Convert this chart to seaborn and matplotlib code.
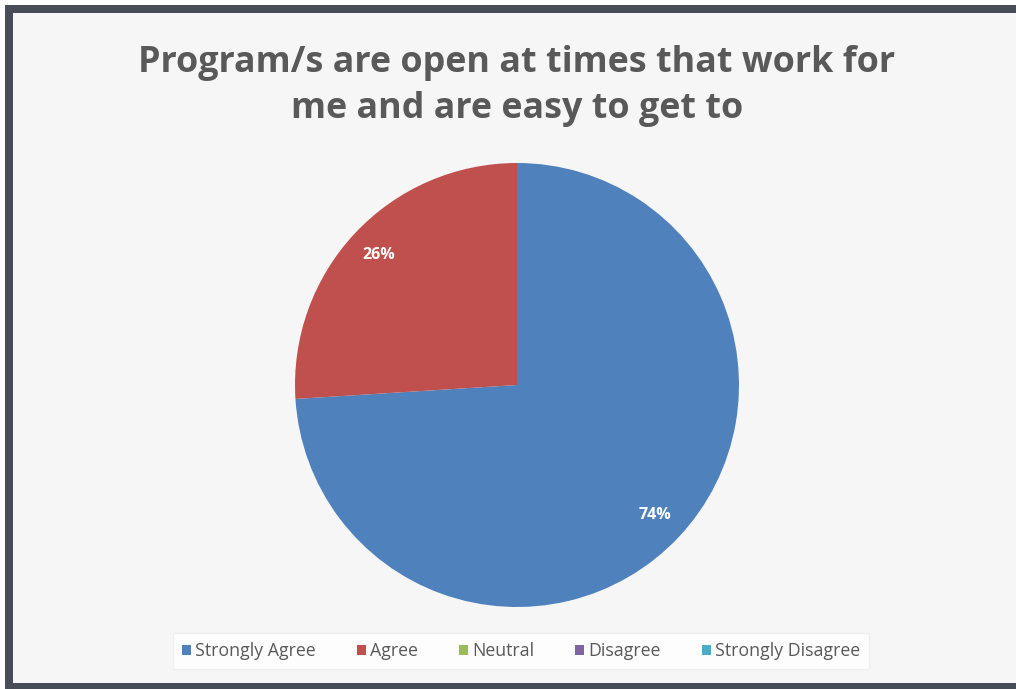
import matplotlib
matplotlib.use("Agg")
import matplotlib.pyplot as plt
from matplotlib.patches import Rectangle, Patch
import seaborn as sns

# Survey responses
categories = ["Strongly Agree", "Agree", "Neutral", "Disagree", "Strongly Disagree"]
shares = [74, 26, 0, 0, 0]
title_text = "Program/s are open at times that work for\nme and are easy to get to"

sns.set_theme(style="white")
plt.rcParams["font.family"] = ["Open Sans", "DejaVu Sans"]

palette = sns.color_palette(["#4F81BD", "#C0504D", "#9BBB59", "#8064A2", "#4BACC6"])

W, H = 1016, 689
fig = plt.figure(figsize=(W / 100, H / 100), dpi=100)
fig.patch.set_facecolor("white")

# Dark frame and light panel
def px_rect(x0, y0, x1, y1, color, z):
    fig.add_artist(Rectangle((x0 / W, 1 - y1 / H), (x1 - x0) / W, (y1 - y0) / H,
                             transform=fig.transFigure, facecolor=color,
                             edgecolor="none", zorder=z))

px_rect(5, 5, W + 5, H + 5, "#484b58", -2)
px_rect(13, 13, W + 5, 683, "#f6f6f6", -1)

fig.text(517 / W, 1 - 86 / H, title_text, ha="center", va="center",
         fontsize=25.8, fontweight="bold", color="#595959", linespacing=1.38,
         zorder=3)

# Pie axes: centre (517, 385) px, radius 222 px
cx, cy, r = 517, 385, 222
ax = fig.add_axes([(cx - r) / W, 1 - (cy + r) / H, 2 * r / W, 2 * r / H])
ax.set_zorder(2)
ax.patch.set_alpha(0)

vals = [v for v in shares if v > 0]
cols = [palette[i] for i, v in enumerate(shares) if v > 0]
wedges, texts, autotexts = ax.pie(
    vals, colors=cols, startangle=90, counterclock=False, radius=1,
    autopct="%d%%", pctdistance=0.855,
    wedgeprops=dict(linewidth=0),
    textprops=dict(color="white", fontsize=11.5, fontweight="bold"),
)
ax.set_xlim(-1, 1)
ax.set_ylim(-1, 1)
ax.set_aspect("equal")
ax.axis("off")

handles = [Patch(facecolor=palette[i], edgecolor="none", label=c)
           for i, c in enumerate(categories)]
leg = fig.legend(handles=handles, loc="center", bbox_to_anchor=(521 / W, 1 - 651 / H),
                 ncol=5, frameon=True, fontsize=12.8, handlelength=0.5,
                 handleheight=0.5, handletextpad=0.25, columnspacing=2.3,
                 borderpad=0.5, fancybox=False)
leg.get_frame().set_facecolor("white")
leg.get_frame().set_edgecolor("#ececec")
leg.set_zorder(4)
for t in leg.get_texts():
    t.set_color("#595959")

fig.savefig("out.png", dpi=100)
